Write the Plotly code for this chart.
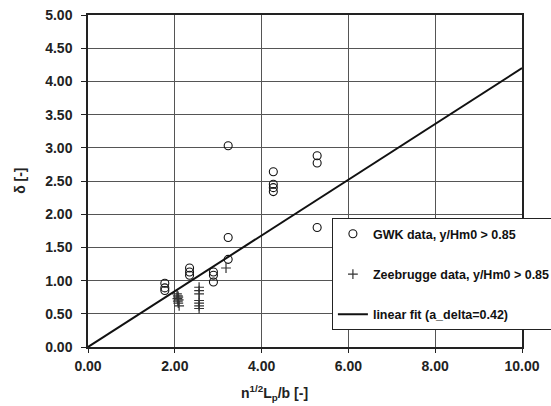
import plotly.graph_objects as go

# GWK flume measurements (y/Hm0 > 0.85)
gwk_x = [1.77, 1.77, 1.77, 2.34, 2.34, 2.34, 2.89, 2.89, 2.89,
         3.23, 3.23, 3.23, 4.27, 4.27, 4.27, 4.27, 5.28, 5.28, 5.28]
gwk_y = [0.96, 0.89, 0.85, 1.19, 1.13, 1.08, 1.13, 1.08, 0.98,
         3.03, 1.65, 1.32, 2.64, 2.45, 2.40, 2.34, 2.88, 2.77, 1.80]

# Zeebrugge prototype measurements (y/Hm0 > 0.85)
zee_x = [2.05, 2.07, 2.08, 2.06, 2.09, 2.07, 2.08, 2.10,
         2.56, 2.56, 2.56, 2.56, 2.56, 2.56, 2.56, 3.18]
zee_y = [0.80, 0.77, 0.75, 0.73, 0.71, 0.69, 0.66, 0.62,
         0.90, 0.85, 0.80, 0.70, 0.66, 0.62, 0.58, 1.19]

# linear fit delta = a_delta * x
a_delta = 0.42
fit_x = [0.0, 10.0]
fit_y = [a_delta * v for v in fit_x]

x_ticks = [0, 2, 4, 6, 8, 10]
y_ticks = [0, 0.5, 1.0, 1.5, 2.0, 2.5, 3.0, 3.5, 4.0, 4.5, 5.0]

FONT = "Liberation Sans, Arial, sans-serif"

fig = go.Figure()
fig.add_trace(go.Scatter(
    x=gwk_x, y=gwk_y, mode="markers", name="GWK data, y/Hm0 > 0.85",
    legendgroup="a",
    marker=dict(symbol="circle-open", size=8, color="#111",
                line=dict(width=1.1, color="#111")),
))
fig.add_trace(go.Scatter(
    x=zee_x, y=zee_y, mode="markers", name="Zeebrugge data, y/Hm0 > 0.85",
    legendgroup="b",
    marker=dict(symbol="cross-thin-open", size=7, color="#333",
                line=dict(width=1.2, color="#333")),
))
fig.add_trace(go.Scatter(
    x=fit_x, y=fit_y, mode="lines", name="linear fit (a_delta=0.42)",
    legendgroup="c",
    line=dict(color="#111", width=2),
))

tick_font = dict(family=FONT, size=14, color="#222", weight="bold")

fig.update_xaxes(
    range=[0, 10], tickvals=x_ticks, tickformat=".2f",
    showline=True, linecolor="#222", linewidth=1.5, mirror=True,
    ticks="outside", ticklen=4, tickcolor="#222", ticklabelstandoff=1,
    zeroline=False, tickfont=tick_font,
)
fig.update_yaxes(
    range=[0, 5], tickvals=y_ticks, tickformat=".2f",
    showline=True, linecolor="#222", linewidth=1.5, mirror=True,
    ticks="outside", ticklen=5, tickcolor="#222", ticklabelstandoff=6,
    zeroline=False, tickfont=tick_font,
)
fig.update_xaxes(showgrid=True, gridcolor="#555555", gridwidth=1)
fig.update_yaxes(showgrid=True, gridcolor="#555555", gridwidth=1)

fig.add_annotation(
    text="<b>n<sup>1/2</sup>L<sub>p</sub>/b [-]</b>",
    xref="paper", yref="paper", x=0.4286, y=-0.139,
    xanchor="center", yanchor="middle",
    showarrow=False, font=dict(family=FONT, size=14, color="#222"),
)
fig.add_annotation(
    text="<b>δ [-]</b>", textangle=-90,
    xref="paper", yref="paper", x=-0.157, y=0.5,
    xanchor="center", yanchor="middle",
    showarrow=False, font=dict(family=FONT, size=14, color="#222"),
)

fig.update_layout(
    width=551, height=406,
    margin=dict(l=88, r=29, t=15, b=59, autoexpand=False),
    paper_bgcolor="white", plot_bgcolor="white",
    showlegend=True,
    legend=dict(
        x=0.562, y=0.388, xanchor="left", yanchor="top",
        bgcolor="white", bordercolor="#222", borderwidth=1,
        traceorder="grouped", tracegroupgap=21,
        font=dict(family=FONT, size=12.5, color="#111", weight="bold"),
    ),
)

fig.write_html("out.html")
